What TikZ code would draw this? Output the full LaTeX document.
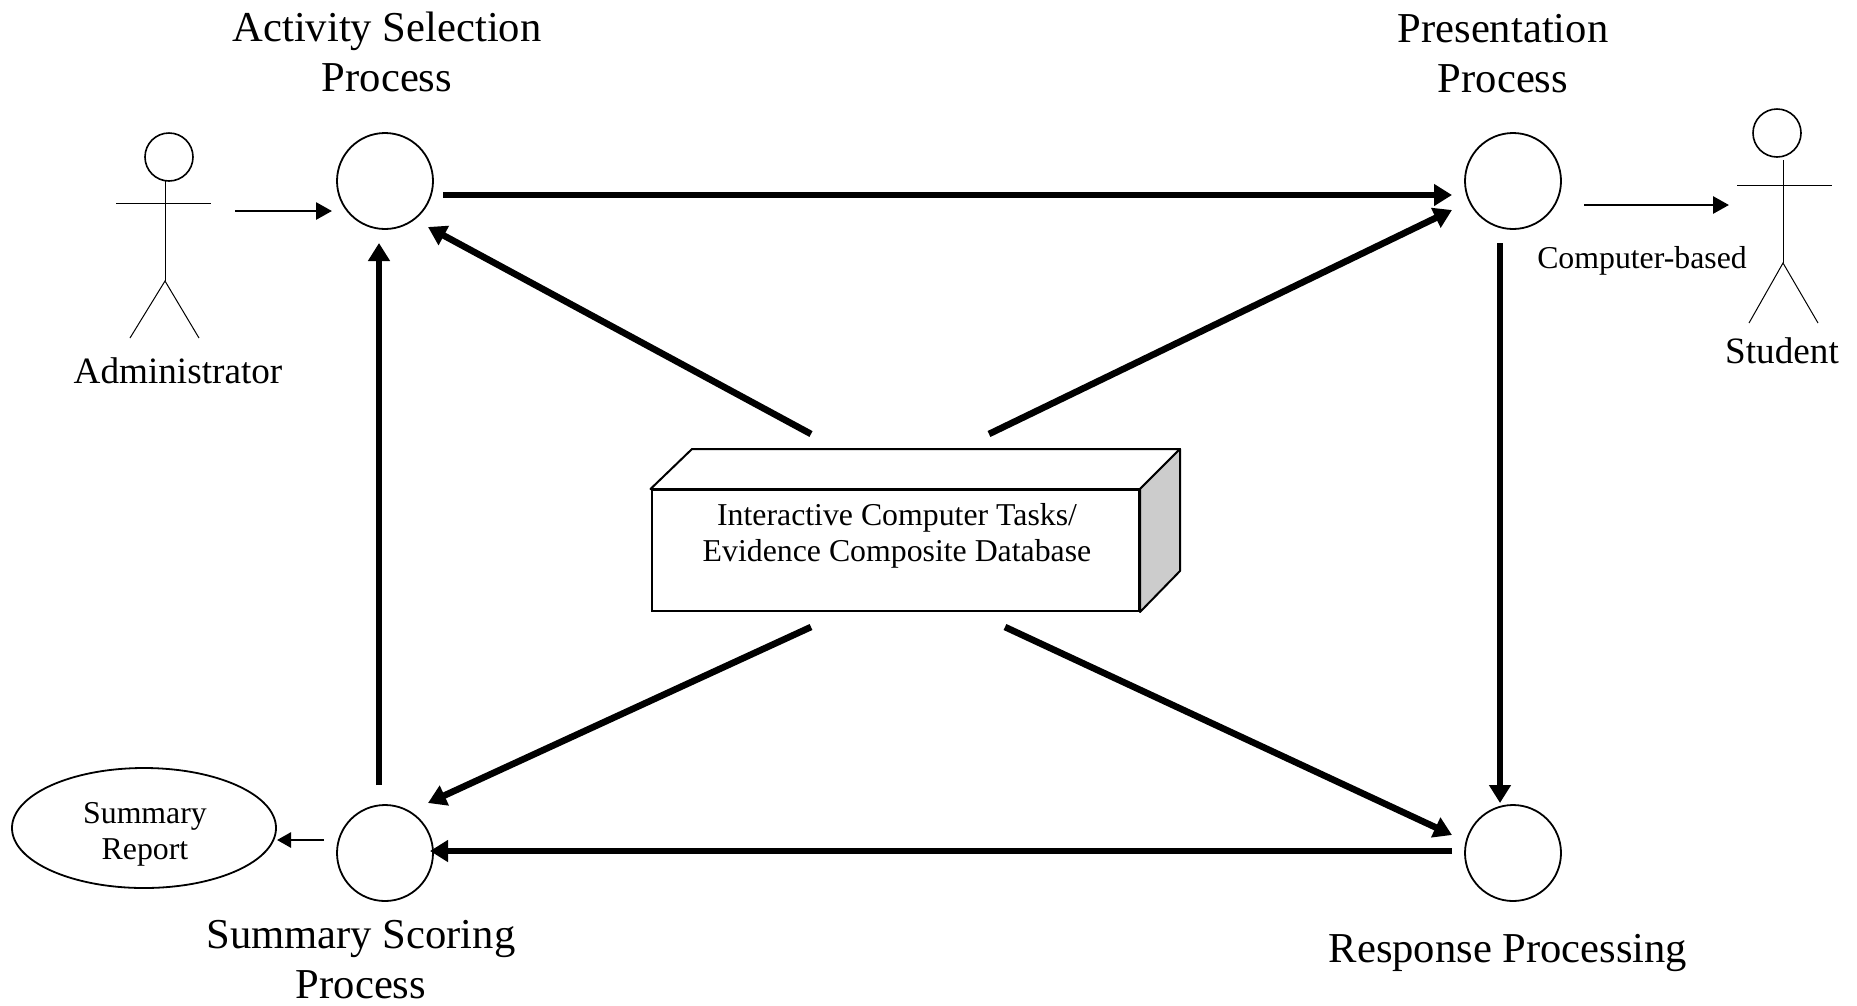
\documentclass[tikz,border=0pt]{standalone}
\usepackage{fontspec}
\setmainfont{Liberation Serif}
\usetikzlibrary{arrows.meta,shapes.geometric}
\tikzset{
  big/.style={font=\fontsize{42.6}{50}\selectfont,align=center,anchor=base,inner sep=0pt},
  mid/.style={font=\fontsize{37.2}{44}\selectfont,align=center,anchor=base,inner sep=0pt},
  small/.style={font=\fontsize{31.8}{36}\selectfont,align=center,anchor=base,inner sep=0pt},
  proc/.style={circle,draw=black,line width=1.8pt,minimum size=96pt,inner sep=0pt},
  head/.style={circle,draw=black,line width=1.6pt,minimum size=48pt,inner sep=0pt},
  limb/.style={draw=black,line width=1pt},
  flow/.style={draw=black,line width=6.6pt,-{Triangle[length=18pt,width=21pt]}},
  thin flow/.style={draw=black,line width=2.8pt,-{Triangle[length=16pt,width=17pt]}},
  short flow/.style={draw=black,line width=2.8pt,-{Triangle[length=14pt,width=15pt]}},
  dbline/.style={draw=black,line width=2pt,line join=round}
}
\begin{document}
\begin{tikzpicture}[x=1pt,y=-1pt]
\useasboundingbox (0,0) rectangle (1857,1005);
% process circles
\node[proc] (A) at (385,181) {};
\node[proc] (P) at (1513,181) {};
\node[proc] (S) at (385,853) {};
\node[proc] (R) at (1513,853) {};
% process labels
\node[big] (Alab) at (387,91) {Activity Selection\\Process};
\node[big] (Plab) at (1503,92) {Presentation\\Process};
\node[big] (Slab) at (361,998) {Summary Scoring\\Process};
\node[big] (Rlab) at (1508,962) {Response Processing};
% administrator
\node[head] (adminhead) at (169,157) {};
\coordinate (adminhip) at (165,281);
\coordinate (adminneck) at (165,180);
\coordinate (adminarmL) at (116,203);
\coordinate (adminarmR) at (211,203);
\coordinate (adminlegL) at (130,338);
\coordinate (adminlegR) at (199,338);
\draw[limb] (adminneck) -- (adminhip);
\draw[limb] (adminarmL) -- (adminarmR);
\draw[limb] (adminlegL) -- (adminhip) -- (adminlegR);
\node[mid] (adminlab) at (178,383) {Administrator};
% student
\node[head] (studenthead) at (1777,133) {};
\coordinate (studenthip) at (1783,263);
\coordinate (studentneck) at (1783,160);
\coordinate (studentarmL) at (1737,185);
\coordinate (studentarmR) at (1832,185);
\coordinate (studentlegL) at (1749,323);
\coordinate (studentlegR) at (1818,323);
\draw[limb] (studentneck) -- (studenthip);
\draw[limb] (studentarmL) -- (studentarmR);
\draw[limb] (studentlegL) -- (studenthip) -- (studentlegR);
\node[mid] (studentlab) at (1782,363) {Student};
\node[small] (cb) at (1642,268) {Computer-based};
% database
\coordinate (dbTL) at (692,449);
\coordinate (dbTR) at (1180,449);
\coordinate (dbBR) at (1180,571);
\node[draw=black,line width=2pt,fill=white,minimum width=487.5pt,minimum height=121pt,inner sep=0pt] (DB) at (895.25,550.5) {};
\draw[dbline,fill=white] (DB.north west) -- (dbTL) -- (dbTR) -- (DB.north east) -- cycle;
\draw[dbline,fill=black!20] (DB.north east) -- (dbTR) -- (dbBR) -- (DB.south east) -- cycle;
\node[small] (dbtext) at (897,561) {Interactive Computer Tasks/\\Evidence Composite Database};
% summary report
\node[ellipse,draw=black,line width=1.8pt,minimum width=264pt,minimum height=120pt,inner sep=0pt] (report) at (144,828) {};
\node[small] (reporttext) at (145,859) {Summary\\Report};
% main flows
\draw[flow] ([shift={(58,14)}]A.center) -- ([shift={(-61,14)}]P.center);
\draw[flow] ([shift={(-13,62)}]P.center) -- ([shift={(-13,-50)}]R.center);
\draw[flow] ([shift={(-61,-2)}]R.center) -- ([shift={(45,-2)}]S.center);
\draw[flow] ([shift={(-6,-68)}]S.center) -- ([shift={(-6,62)}]A.center);
\draw[flow] ([shift={(-84.25,-116.5)}]DB.center) -- ([shift={(43,46)}]A.center);
\draw[flow] ([shift={(93.75,-116.5)}]DB.center) -- ([shift={(-61,29)}]P.center);
\draw[flow] ([shift={(-84.25,76.5)}]DB.center) -- ([shift={(43,-50)}]S.center);
\draw[flow] ([shift={(109.75,76.5)}]DB.center) -- ([shift={(-61,-18)}]R.center);
% thin flows
\draw[thin flow] ([shift={(66,54)}]adminhead.center) -- ([shift={(-53,30)}]A.center);
\draw[thin flow] ([shift={(71,24)}]P.center) -- ([shift={(-48,72)}]studenthead.center);
\draw[short flow] ([shift={(-61,-13)}]S.center) -- ([shift={(133,12)}]report.center);
\end{tikzpicture}
\end{document}
